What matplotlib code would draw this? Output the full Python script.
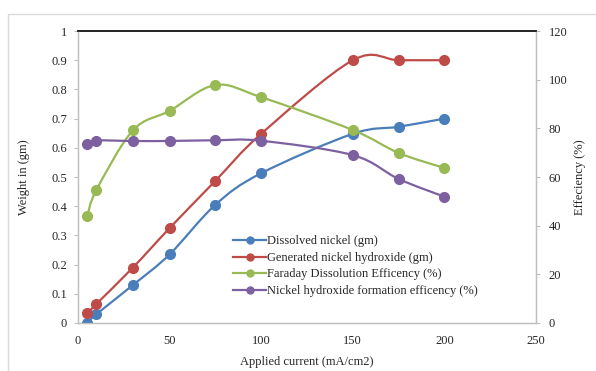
import numpy as np
import matplotlib
matplotlib.use("Agg")
from matplotlib import pyplot as plt
from matplotlib.path import Path
from matplotlib.patches import PathPatch, Rectangle
from matplotlib.lines import Line2D

plt.rcParams['font.family'] = ['Liberation Serif', 'DejaVu Serif']

current = [5, 10, 30, 50, 75, 100, 150, 175, 200]
dissolved_ni = [0.0, 0.03, 0.13, 0.235, 0.405, 0.513, 0.648, 0.672, 0.70]
generated_hydroxide = [0.033, 0.065, 0.19, 0.325, 0.487, 0.648, 0.90, 0.90, 0.90]
faraday_eff = [43.8, 54.6, 79.2, 87.2, 97.8, 92.8, 79.3, 69.9, 63.7]
hydroxide_eff = [73.6, 75.0, 74.8, 74.8, 75.1, 74.9, 69.0, 59.2, 51.9]

labels = ['Dissolved nickel (gm)', 'Generated nickel hydroxide (gm)',
          'Faraday Dissolution Efficency (%)', 'Nickel hydroxide formation efficency (%)']
colors = ['#4A7EBB', '#BE4B48', '#98B954', '#7D60A0']

x_ticks = [0, 50, 100, 150, 200, 250]
left_ticks = [0, 0.1, 0.2, 0.3, 0.4, 0.5, 0.6, 0.7, 0.8, 0.9, 1]
right_ticks = [0, 20, 40, 60, 80, 100, 120]


def smooth_path(xs, ys, tension=1 / 6):
    # spreadsheet-style smoothed line: cubic bezier through every point
    pts = np.column_stack([xs, ys]).astype(float)
    verts = [pts[0]]
    codes = [Path.MOVETO]
    n = len(pts)
    for i in range(n - 1):
        p0 = pts[max(i - 1, 0)]
        p1 = pts[i]
        p2 = pts[i + 1]
        p3 = pts[min(i + 2, n - 1)]
        c1 = p1 + (p2 - p0) * tension
        c2 = p2 - (p3 - p1) * tension
        verts += [c1, c2, p2]
        codes += [Path.CURVE4] * 3
    return Path(verts, codes)


fig = plt.figure(figsize=(5.96, 3.71), dpi=100)
ax = fig.add_axes([0.1309, 0.1294, 0.7684, 0.787])
ax2 = ax.twinx()

fig.add_artist(Rectangle((8 / 596, -0.05), 1.0, 1 - 14 / 371 + 0.05, transform=fig.transFigure,
                         fill=False, edgecolor='#DADADA', linewidth=1.0))

series = [(ax, dissolved_ni), (ax, generated_hydroxide), (ax2, faraday_eff), (ax2, hydroxide_eff)]
for (a, ys), c in zip(series, colors):
    a.add_patch(PathPatch(smooth_path(current, ys), fill=False, edgecolor=c, linewidth=1.6, zorder=3))
    a.plot(current, ys, 'o', color=c, markersize=7, zorder=4)

ax.set_xlim(0, 250)
ax.set_ylim(0, 1)
ax2.set_ylim(0, 120)
ax.set_xticks(x_ticks)
ax.set_yticks(left_ticks)
ax.set_yticklabels(['0', '0.1', '0.2', '0.3', '0.4', '0.5', '0.6', '0.7', '0.8', '0.9', '1'])
ax2.set_yticks(right_ticks)

gray = '#BFBFBF'
txt = '#262626'
for a in (ax, ax2):
    for s in ('left', 'right', 'bottom'):
        a.spines[s].set_color(gray)
        a.spines[s].set_linewidth(0.9)
    a.spines['top'].set_color('#262626')
    a.spines['top'].set_linewidth(1.3)

ax.tick_params(axis='y', length=3, color=gray, pad=5, labelsize=9, labelcolor=txt)
ax.tick_params(axis='x', length=0, pad=9, labelsize=9, labelcolor=txt)
ax2.tick_params(axis='y', length=3, color=gray, pad=6, labelsize=9, labelcolor=txt)

ax.set_xlabel('Applied current (mA/cm2)', fontsize=9, color=txt, labelpad=6)
ax.set_ylabel('Weight in (gm)', fontsize=9, color=txt, labelpad=15)
ax2.set_ylabel('Effeciency (%)', fontsize=9, color=txt, labelpad=5)

handles = [Line2D([], [], color=c, linewidth=1.6, marker='o', markersize=5) for c in colors]
ax.legend(handles, labels, loc='upper left', bbox_to_anchor=(0.32, 0.33), frameon=False,
          fontsize=9, handlelength=2.6, handletextpad=0.1, labelspacing=0.36,
          borderpad=0.2, labelcolor=txt)

fig.savefig('out.png', dpi=100)
